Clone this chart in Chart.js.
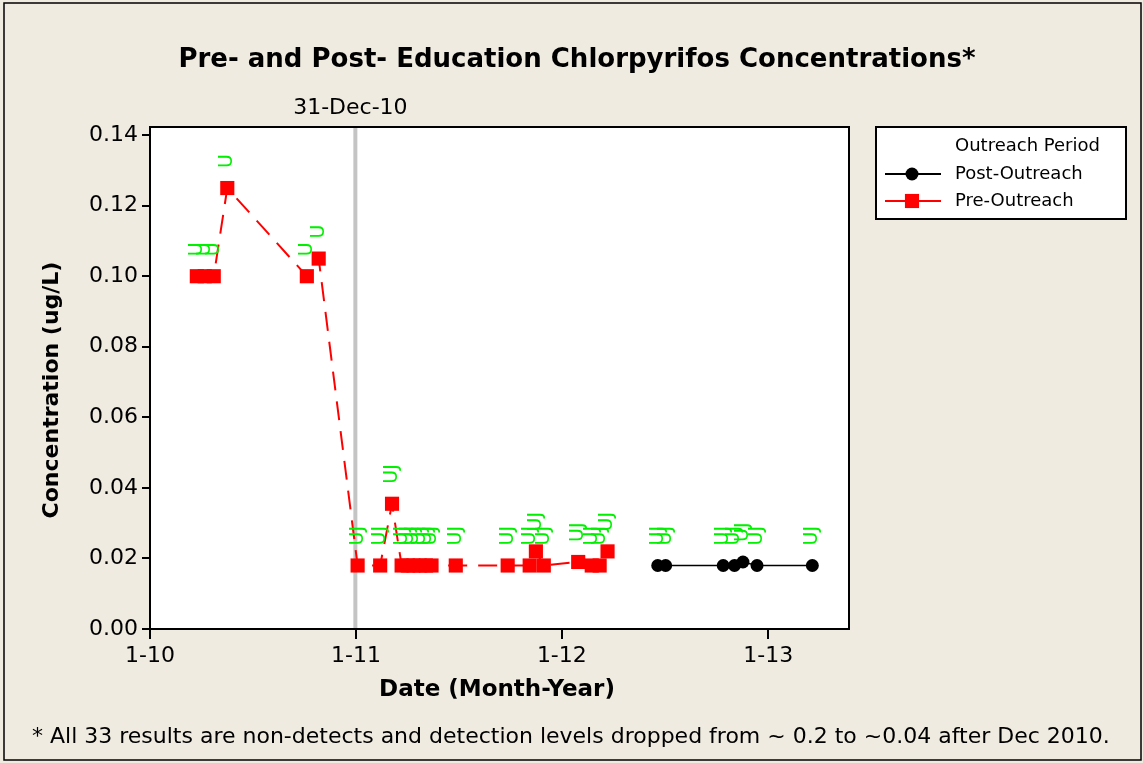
<!DOCTYPE html>
<html>
<head>
<meta charset="utf-8">
<title>Chlorpyrifos</title>
<script src="https://cdn.jsdelivr.net/npm/chart.js@4.4.0/dist/chart.umd.min.js"></script>
<style>
    html, body { margin: 0; padding: 0; background: #efebe1; }
    #wrap { width: 1143px; height: 763px; }
</style>
</head>
<body>
<div id="wrap"><canvas id="dChart_chlor" width="1143" height="763"></canvas></div>
<script>
// Data --------------------------------------------------------
const preDates = ['2010-03-25', '2010-04-08', '2010-04-24', '2010-05-18', '2010-10-06', '2010-10-27',
    '2011-01-04', '2011-02-13', '2011-03-06', '2011-03-23', '2011-04-03', '2011-04-13',
    '2011-04-24', '2011-05-05', '2011-05-15', '2011-06-27', '2011-09-27', '2011-11-05',
    '2011-11-16', '2011-11-30', '2012-01-30', '2012-02-23', '2012-03-08', '2012-03-22'];
const preValues = [0.100, 0.100, 0.100, 0.125, 0.100, 0.105,
    0.018, 0.018, 0.0355, 0.018, 0.018, 0.018,
    0.018, 0.018, 0.018, 0.018, 0.018, 0.018,
    0.022, 0.018, 0.019, 0.018, 0.018, 0.022];
const preQual = ['U', 'U', 'U', 'U', 'U', 'U',
    'UJ', 'UJ', 'UJ', 'UJ', 'UJ', 'UJ',
    'UJ', 'UJ', 'UJ', 'UJ', 'UJ', 'UJ',
    'UJ', 'UJ', 'UJ', 'UJ', 'UJ', 'UJ'];

const postDates = ['2012-06-19', '2012-07-03', '2012-10-13', '2012-11-02', '2012-11-17', '2012-12-12', '2013-03-20'];
const postValues = [0.018, 0.018, 0.018, 0.018, 0.019, 0.018, 0.018];
const postQual = ['UJ', 'UJ', 'UJ', 'UJ', 'UJ', 'UJ', 'UJ'];

const xTickDates = ['2010-01-01', '2011-01-01', '2012-01-01', '2013-01-01'];
const yTicks = [0, 0.02, 0.04, 0.06, 0.08, 0.10, 0.12, 0.14];
const outreachDate = '2010-12-31';
const outreachLabel = '31-Dec-10';

const FONT = '"DejaVu Sans", Verdana, sans-serif';
const toTime = d => Date.parse(d);
const pts = (dates, vals) => dates.map((d, i) => ({ x: toTime(d), y: vals[i] }));

// background, plot area, reference line -------------------------------------
const frame = {
    id: 'frame',
    beforeDraw(chart) {
        const { ctx, chartArea: a } = chart;
        ctx.save();
        ctx.fillStyle = '#efebe1';
        ctx.fillRect(0, 0, chart.width, chart.height);
        ctx.strokeStyle = '#000';
        ctx.lineWidth = 1.5;
        ctx.strokeRect(4, 3, 1137, 757);
        ctx.fillStyle = '#fff';
        ctx.fillRect(a.left, a.top, a.right - a.left, a.bottom - a.top);
        ctx.restore();
    },
    beforeDatasetsDraw(chart) {
        const { ctx, chartArea: a, scales } = chart;
        const x = scales.x.getPixelForValue(toTime(outreachDate));
        ctx.save();
        ctx.strokeStyle = '#c4c4c4';
        ctx.lineWidth = 4;
        ctx.beginPath();
        ctx.moveTo(x, a.top);
        ctx.lineTo(x, a.bottom);
        ctx.stroke();
        ctx.fillStyle = '#000';
        ctx.font = '22px ' + FONT;
        ctx.textAlign = 'center';
        ctx.textBaseline = 'middle';
        ctx.fillText(outreachLabel, x - 5, 108);
        ctx.restore();
    },
    afterDatasetsDraw(chart) {
        const { ctx, chartArea: a } = chart;
        ctx.save();
        // U / UJ qualifiers above each point
        ctx.fillStyle = '#00f000';
        ctx.font = '19px ' + FONT;
        ctx.textAlign = 'left';
        ctx.textBaseline = 'middle';
        chart.data.datasets.forEach((ds, i) => {
            chart.getDatasetMeta(i).data.forEach((el, j) => {
                ctx.save();
                ctx.translate(el.x, el.y - 20);
                ctx.rotate(-Math.PI / 2);
                ctx.fillText(ds.qual[j], 0, 0);
                ctx.restore();
            });
        });
        ctx.strokeStyle = '#000';
        ctx.lineWidth = 2;
        ctx.strokeRect(a.left, a.top, a.right - a.left, a.bottom - a.top);
        ctx.restore();
    }
};

// titles and legend -------------------------------------
const texts = {
    id: 'texts',
    afterDraw(chart) {
        const ctx = chart.ctx;
        ctx.save();
        ctx.fillStyle = '#000';
        ctx.textBaseline = 'middle';
        ctx.textAlign = 'center';
        ctx.font = 'bold 26px ' + FONT;
        ctx.fillText('Pre- and Post- Education Chlorpyrifos Concentrations*', 577, 60);
        ctx.font = 'bold 23px ' + FONT;
        ctx.fillText('Date (Month-Year)', 497, 690);
        ctx.save();
        ctx.translate(52, 390);
        ctx.rotate(-Math.PI / 2);
        ctx.font = 'bold 22px ' + FONT;
        ctx.fillText('Concentration (ug/L)', 0, 0);
        ctx.restore();
        ctx.textAlign = 'left';
        ctx.font = '22px ' + FONT;
        ctx.fillText('* All 33 results are non-detects and detection levels dropped from ~ 0.2 to ~0.04 after Dec 2010.', 32, 737);

        // legend box
        ctx.fillStyle = '#fff';
        ctx.fillRect(876, 127, 250, 92);
        ctx.strokeStyle = '#000';
        ctx.lineWidth = 2;
        ctx.strokeRect(876, 127, 250, 92);
        ctx.fillStyle = '#000';
        ctx.font = '18px ' + FONT;
        ctx.fillText('Outreach Period', 955, 146);
        chart.data.datasets.forEach((ds, i) => {
            const y = 174 + i * 27;
            ctx.strokeStyle = ds.borderColor;
            ctx.lineWidth = 2;
            ctx.beginPath();
            ctx.moveTo(885, y);
            ctx.lineTo(941, y);
            ctx.stroke();
            ctx.fillStyle = ds.backgroundColor;
            Chart.helpers.drawPoint(ctx, { pointStyle: ds.pointStyle, radius: ds.pointRadius, rotation: 0, borderWidth: 0 }, 912, y);
            ctx.fillStyle = '#000';
            ctx.fillText(ds.label, 955, y);
        });
        ctx.restore();
    }
};

var ctx = document.getElementById('dChart_chlor');
var dChart = new Chart(ctx, {
    type: 'line',
    data: {
        datasets: [
            {
                label: 'Post-Outreach',
                data: pts(postDates, postValues),
                qual: postQual,
                borderColor: '#000000',
                backgroundColor: '#000000',
                borderWidth: 1.5,
                pointStyle: 'circle',
                pointRadius: 6.5,
                pointBorderWidth: 0,
                fill: false
            },
            {
                label: 'Pre-Outreach',
                data: pts(preDates, preValues),
                qual: preQual,
                borderColor: '#ff0000',
                backgroundColor: '#ff0000',
                borderWidth: 2,
                borderDash: [19, 11],
                pointStyle: 'rect',
                pointRadius: 10,
                pointBorderWidth: 0,
                fill: false
            }
        ]
    },
    options: {
        responsive: false,
        animation: false,
        events: [],
        layout: { padding: { top: 127, right: 294, left: 0, bottom: 0 } },
        plugins: { legend: { display: false }, title: { display: false }, tooltip: { enabled: false } },
        scales: {
            x: {
                type: 'linear',
                min: toTime('2010-01-01'),
                max: toTime('2013-05-24'),
                afterFit: s => { s.height = 134; },
                afterBuildTicks: s => { s.ticks = xTickDates.map(d => ({ value: toTime(d) })); },
                grid: { drawOnChartArea: false, drawTicks: true, tickLength: 10, color: '#000', lineWidth: 2 },
                border: { display: false },
                ticks: {
                    autoSkip: false,
                    maxRotation: 0,
                    padding: 4,
                    color: '#000',
                    font: { family: FONT, size: 22 },
                    callback: v => {
                        const d = new Date(v);
                        return (d.getUTCMonth() + 1) + '-' + String(d.getUTCFullYear()).slice(2);
                    }
                }
            },
            y: {
                min: 0,
                max: 0.1423,
                afterFit: s => { s.width = 150; },
                afterBuildTicks: s => { s.ticks = yTicks.map(v => ({ value: v })); },
                grid: { drawOnChartArea: false, drawTicks: true, tickLength: 8, color: '#000', lineWidth: 2 },
                border: { display: false },
                ticks: {
                    padding: 4,
                    color: '#000',
                    font: { family: FONT, size: 22 },
                    callback: v => v.toFixed(2)
                }
            }
        }
    },
    plugins: [frame, texts]
});
</script>
</body>
</html>
